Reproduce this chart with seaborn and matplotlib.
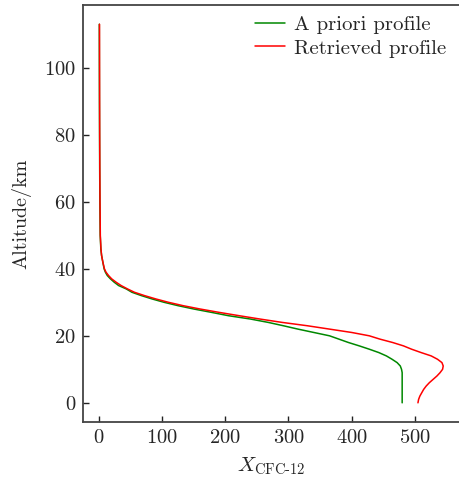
import matplotlib
matplotlib.use("Agg")
import matplotlib.pyplot as plt
import seaborn as sns
import pandas as pd

alt_apriori = [0, 2, 4, 6, 8, 9, 10, 11, 12, 13, 14, 15, 16, 17, 18, 19, 20, 21, 22, 23, 24, 25,
               26, 27, 28, 29, 30, 31, 32, 33, 34, 35, 36, 37, 38, 39, 40, 42, 44, 46, 50, 60,
               70, 80, 90, 100, 113]
x_apriori = [480, 480, 480, 480, 480, 480, 479, 477, 472, 464, 455, 443, 428, 412, 395, 380, 365,
             340, 315, 292, 268, 240, 205, 178, 150, 125, 103, 84, 67, 52, 43, 31, 24, 18, 13, 10,
             8, 6, 4, 2.8, 1.8, 1.3, 1.0, 0.8, 0.6, 0.5, 0.4]

alt_retrieved = [0, 1, 2, 3, 4, 5, 6, 7, 8, 9, 10, 11, 12, 13, 14, 15, 16, 17, 18, 19, 20, 21, 22,
                 23, 24, 25, 26, 27, 28, 29, 30, 31, 32, 33, 34, 35, 36, 37, 38, 39, 40, 42, 44,
                 46, 50, 60, 70, 80, 90, 100, 113]
x_retrieved = [505, 506, 508, 511, 514, 518, 523, 529, 535, 540, 544, 545, 543, 536, 526, 510, 495,
               482, 465, 445, 428, 400, 365, 330, 290, 255, 222, 190, 160, 133, 110, 90, 72, 56,
               45, 35, 27, 20, 15, 11, 8.5, 6, 4, 3, 2, 1.5, 1.2, 1.0, 0.9, 0.8, 0.7]

series_names = ["A priori profile", "Retrieved profile"]

df = pd.concat([
    pd.DataFrame({"alt": alt_apriori, "x": x_apriori, "profile": series_names[0]}),
    pd.DataFrame({"alt": alt_retrieved, "x": x_retrieved, "profile": series_names[1]}),
])

sns.set_style("ticks")
plt.rcParams["font.family"] = ["cmr10", "DejaVu Serif"]
plt.rcParams["mathtext.fontset"] = "cm"
plt.rcParams["axes.formatter.use_mathtext"] = True
plt.rcParams["axes.unicode_minus"] = False

fig = plt.figure(figsize=(4.59, 4.8), dpi=100)
ax = fig.add_axes([0.181, 0.121, 0.819, 0.869])

sns.lineplot(data=df, x="x", y="alt", hue="profile", orient="y", sort=False,
             palette={series_names[0]: "#008800", series_names[1]: "#ff0000"},
             linewidth=1.1, ax=ax, estimator=None)

ax.set_xlim(-25.3, 570)
ax.set_ylim(-5.7, 118.8)
ax.set_xticks([0, 100, 200, 300, 400, 500])
ax.set_yticks([0, 20, 40, 60, 80, 100])
ax.set_xlabel(r"$X_{\mathrm{CFC\text{-}12}}$", fontsize=15, labelpad=6.5)
ax.set_ylabel("Altitude/km", fontsize=14.5, labelpad=9)
ax.tick_params(direction="in", length=4.5, width=1.0, labelsize=14.8, color="#222222", pad=5)
for s in ["left", "bottom", "top"]:
    ax.spines[s].set_linewidth(1.3)
    ax.spines[s].set_color("#444444")
ax.spines["right"].set_visible(False)

leg = ax.legend(loc="upper right", frameon=False, fontsize=15, handlelength=1.45,
                handletextpad=0.43, borderaxespad=0.1, labelspacing=0.25,
                bbox_to_anchor=(0.995, 1.0))

fig.savefig("out.png", dpi=100)
